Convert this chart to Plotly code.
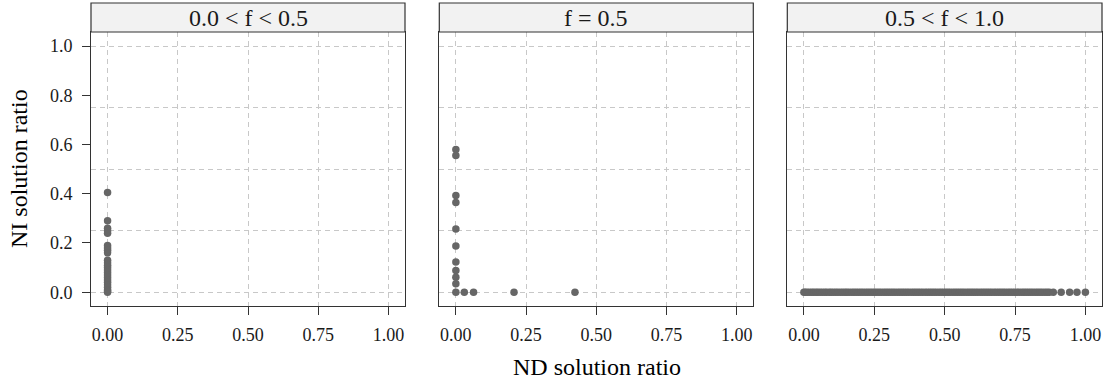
import plotly.graph_objects as go

# ---- data ----
panel_titles = ["0.0 < f < 0.5", "f = 0.5", "0.5 < f < 1.0"]

p1_x = [0.0] * 24
p1_y = [0.405, 0.29, 0.26, 0.25, 0.24, 0.19, 0.18, 0.17, 0.16, 0.13, 0.12, 0.11,
        0.10, 0.09, 0.08, 0.07, 0.06, 0.05, 0.04, 0.03, 0.02, 0.01, 0.005, 0.0]

p2_x = [0.0, 0.0, 0.0, 0.0, 0.0, 0.0, 0.0, 0.0, 0.0, 0.0, 0.0, 0.03, 0.063, 0.207, 0.424]
p2_y = [0.58, 0.555, 0.393, 0.364, 0.257, 0.188, 0.123, 0.088, 0.061, 0.034, 0.0,
        0.0, 0.0, 0.0, 0.0]

p3_x = [0.0, 0.005, 0.012, 0.02, 0.028, 0.035, 0.043, 0.05, 0.058, 0.066, 0.074, 0.081,
        0.09, 0.097, 0.105, 0.113, 0.121, 0.13, 0.138, 0.146, 0.153, 0.161, 0.17, 0.178,
        0.186, 0.194, 0.202, 0.21, 0.219, 0.227, 0.235, 0.243, 0.251, 0.259, 0.267, 0.275,
        0.284, 0.292, 0.3, 0.308, 0.316, 0.324, 0.333, 0.341, 0.349, 0.357, 0.365, 0.373,
        0.382, 0.39, 0.398, 0.406, 0.414, 0.422, 0.431, 0.439, 0.447, 0.455, 0.463, 0.471,
        0.48, 0.488, 0.496, 0.504, 0.512, 0.52, 0.529, 0.537, 0.545, 0.553, 0.561, 0.569,
        0.578, 0.586, 0.594, 0.602, 0.61, 0.618, 0.627, 0.635, 0.643, 0.651, 0.659, 0.667,
        0.676, 0.684, 0.692, 0.7, 0.708, 0.716, 0.725, 0.733, 0.741, 0.749, 0.757, 0.765,
        0.774, 0.782, 0.79, 0.798, 0.806, 0.814, 0.823, 0.831, 0.839, 0.847, 0.856, 0.864,
        0.872, 0.886, 0.914, 0.944, 0.97, 1.0]
p3_y = [0.0] * len(p3_x)

x_tickvals = [0, 0.25, 0.5, 0.75, 1.0]
x_ticktext = ["0.00", "0.25", "0.50", "0.75", "1.00"]
y_tickvals = [0, 0.2, 0.4, 0.6, 0.8, 1.0]
y_ticktext = ["0.0", "0.2", "0.4", "0.6", "0.8", "1.0"]
y_gridvals = [0, 0.25, 0.5, 0.75, 1.0]

# ---- styling ----
FONT = "Liberation Serif"
PT_COLOR = "#666666"
GRID = "#c8c8c8"
W, H = 1108, 383
ML, MR, MT, MB = 91, 6, 32, 77
pw = W - ML - MR
ph = H - MT - MB
domains = [(0.0, 314 / pw), (348.3 / pw, 662.3 / pw), (696.3 / pw, 1.0)]
XR = [-0.059, 1.059]
YR = [-0.056, 1.057]

fig = go.Figure()
datasets = [(p1_x, p1_y), (p2_x, p2_y), (p3_x, p3_y)]
for i, (xs, ys) in enumerate(datasets):
    sfx = "" if i == 0 else str(i + 1)
    fig.add_trace(go.Scatter(
        x=xs, y=ys, mode="markers",
        marker=dict(color=PT_COLOR, size=7.5, line=dict(width=0)),
        xaxis="x" + sfx, yaxis="y" + sfx, showlegend=False, hoverinfo="x+y"))

# empty trace so the labelled overlay y axis is rendered
fig.add_trace(go.Scatter(x=[], y=[], mode="markers", xaxis="x", yaxis="y4",
                         showlegend=False, hoverinfo="skip"))

layout = dict(
    width=W, height=H,
    margin=dict(l=ML, r=MR, t=MT, b=MB),
    paper_bgcolor="white", plot_bgcolor="white",
    font=dict(family=FONT, color="#1a1a1a", size=18),
    showlegend=False,
)
shapes = []
annotations = []
for i in range(3):
    sfx = "" if i == 0 else str(i + 1)
    layout["xaxis" + sfx] = dict(
        domain=list(domains[i]), anchor="y" + sfx, range=XR,
        tickmode="array", tickvals=x_tickvals, ticktext=x_ticktext,
        ticks="outside", ticklen=8, tickwidth=1, tickcolor="#333333",
        ticklabelstandoff=4,
        showline=True, linecolor="#333333", linewidth=1.2, mirror=True,
        showgrid=True, gridcolor=GRID, griddash="5px,4px", gridwidth=1,
        zeroline=False, tickfont=dict(family=FONT, size=18, color="#1a1a1a"),
    )
    layout["yaxis" + sfx] = dict(
        domain=[0, 1], anchor="x" + sfx, range=YR,
        tickmode="array", tickvals=y_gridvals, ticks="", showticklabels=False,
        showline=True, linecolor="#333333", linewidth=1.2, mirror=True,
        showgrid=True, gridcolor=GRID, griddash="5px,4px", gridwidth=1,
        zeroline=False,
    )
    shapes.append(dict(type="rect", xref="x" + sfx + " domain", yref="paper",
                       x0=0, x1=1, y0=1, y1=1 + 29 / ph,
                       fillcolor="#f2f2f2", line=dict(color="#333333", width=1.2),
                       layer="above"))
    annotations.append(dict(text=panel_titles[i], xref="x" + sfx + " domain", yref="paper",
                            x=0.5, y=1 + 14.5 / ph, xanchor="center", yanchor="middle",
                            showarrow=False, font=dict(family=FONT, size=24, color="#1a1a1a")))

# overlay axis carrying the labelled y ticks of the first panel
layout["yaxis4"] = dict(
    overlaying="y", anchor="x", side="left", range=YR,
    tickmode="array", tickvals=y_tickvals, ticktext=y_ticktext,
    ticks="outside", ticklen=8, tickwidth=1, tickcolor="#333333",
    ticklabelstandoff=6,
    showline=False, showgrid=False, zeroline=False,
    tickfont=dict(family=FONT, size=18, color="#1a1a1a"),
)

annotations.append(dict(text="ND solution ratio", xref="paper", yref="paper",
                        x=0.5, y=-61 / ph, xanchor="center", yanchor="middle",
                        showarrow=False, font=dict(family=FONT, size=24, color="black")))
annotations.append(dict(text="NI solution ratio", xref="paper", yref="paper",
                        x=(19 - ML) / pw, y=0.5, xanchor="center", yanchor="middle",
                        textangle=-90, showarrow=False,
                        font=dict(family=FONT, size=24, color="black")))

layout["shapes"] = shapes
layout["annotations"] = annotations
fig.update_layout(**layout)
fig.write_html("out.html")
